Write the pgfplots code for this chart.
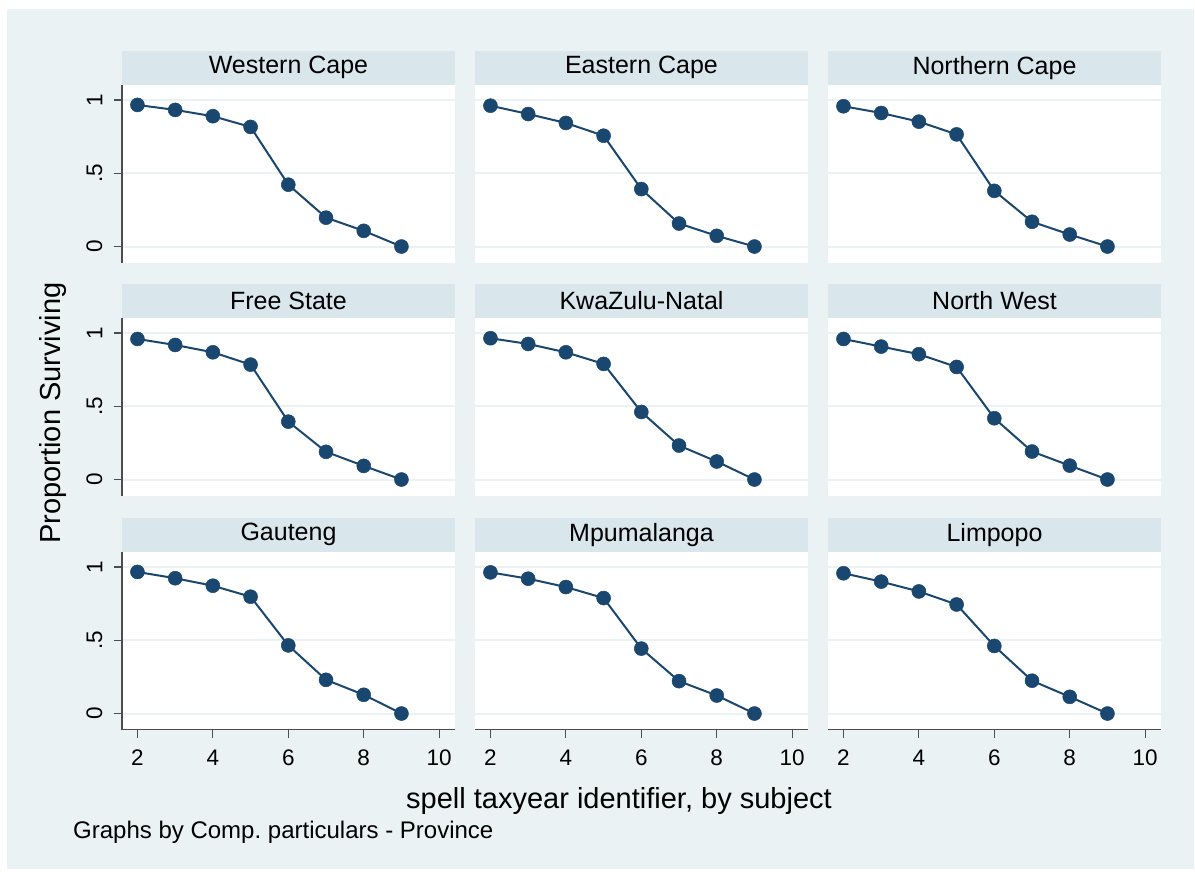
\documentclass[border=0pt]{standalone}
\usepackage{pgfplots}
\pgfplotsset{compat=1.18}
\usepackage{fontspec}
\setmainfont{Liberation Sans}

\definecolor{bgc}{HTML}{EAF2F3}
\definecolor{barc}{HTML}{D9E6EB}
\definecolor{gridc}{HTML}{EAF2F3}
\definecolor{navy}{HTML}{1A476F}
\definecolor{axc}{HTML}{4D4D4D}

\pgfplotsset{
  panel/.style={
    width=333pt, height=177.5pt, scale only axis,
    xmin=1.59, xmax=10.42, ymin=-0.109, ymax=1.102,
    xtick={2,4,6,8,10}, ytick={0,0.5,1}, yticklabels={0,.5,1},
    /pgf/number format/assume math mode=true,
    axis x line=bottom, axis y line=left,
    axis line style={-, draw=axc, line width=1.2pt},
    ymajorgrids, grid style={gridc, line width=2pt},
    tick align=outside, major tick length=8.5pt,
    tick style={axc, line width=1.2pt},
    axis background/.style={fill=white},
    ticklabel style={font=\fontsize{22.5}{26}\selectfont},
    yticklabel style={rotate=90, anchor=south, inner sep=0pt},
    yticklabel shift=11pt,
    xticklabel style={inner sep=0pt},
    xticklabel shift=12pt,
    every axis title/.style={at={(0.5,1)}, anchor=south, fill=barc,
      minimum width=333pt, minimum height=34pt, inner sep=0pt,
      font=\fontsize{25}{28}\selectfont},
    every axis plot post/.append style={navy, line width=2pt, mark=*,
      mark size=7pt, mark options={fill=navy, draw=navy, line width=0.5pt}},
  },
  noy/.style={y axis line style={draw=none}, yticklabels={}, ytick style={draw=none}},
  nox/.style={x axis line style={draw=none}, xticklabels={}, xtick style={draw=none}},
}

\begin{document}
\begin{tikzpicture}
\fill[white] (0pt,0pt) rectangle (1195pt,-871pt);
\fill[bgc] (7pt,-9pt) rectangle (1194pt,-869pt);

% row 1
\begin{axis}[panel, nox, at={(122pt,-85pt)}, anchor=north west, title={Western Cape}]
\addplot coordinates {(2,0.966) (3,0.932) (4,0.889) (5,0.816) (6,0.422) (7,0.197) (8,0.107) (9,0)};
\end{axis}
\begin{axis}[panel, nox, noy, at={(475pt,-85pt)}, anchor=north west, title={Eastern Cape}]
\addplot coordinates {(2,0.961) (3,0.904) (4,0.843) (5,0.756) (6,0.392) (7,0.157) (8,0.073) (9,0)};
\end{axis}
\begin{axis}[panel, nox, noy, at={(828pt,-85pt)}, anchor=north west, title={Northern Cape}]
\addplot coordinates {(2,0.957) (3,0.911) (4,0.852) (5,0.765) (6,0.380) (7,0.169) (8,0.082) (9,0)};
\end{axis}

% row 2
\begin{axis}[panel, nox, at={(122pt,-318pt)}, anchor=north west, title={Free State}]
\addplot coordinates {(2,0.959) (3,0.918) (4,0.868) (5,0.784) (6,0.395) (7,0.189) (8,0.093) (9,0)};
\end{axis}
\begin{axis}[panel, nox, noy, at={(475pt,-318pt)}, anchor=north west, title={KwaZulu-Natal}]
\addplot coordinates {(2,0.964) (3,0.925) (4,0.868) (5,0.789) (6,0.461) (7,0.232) (8,0.123) (9,0)};
\end{axis}
\begin{axis}[panel, nox, noy, at={(828pt,-318pt)}, anchor=north west, title={North West}]
\addplot coordinates {(2,0.959) (3,0.907) (4,0.855) (5,0.768) (6,0.418) (7,0.191) (8,0.095) (9,0)};
\end{axis}

% row 3
\begin{axis}[panel, at={(122pt,-552pt)}, anchor=north west, title={Gauteng}]
\addplot coordinates {(2,0.966) (3,0.923) (4,0.872) (5,0.797) (6,0.465) (7,0.230) (8,0.128) (9,0)};
\end{axis}
\begin{axis}[panel, noy, at={(475pt,-552pt)}, anchor=north west, title={Mpumalanga}]
\addplot coordinates {(2,0.963) (3,0.920) (4,0.863) (5,0.788) (6,0.443) (7,0.221) (8,0.123) (9,0)};
\end{axis}
\begin{axis}[panel, noy, at={(828pt,-552pt)}, anchor=north west, title={Limpopo}]
\addplot coordinates {(2,0.957) (3,0.900) (4,0.833) (5,0.744) (6,0.461) (7,0.224) (8,0.114) (9,0)};
\end{axis}

\node[rotate=90, font=\fontsize{29}{33}\selectfont, inner sep=0pt] at (53pt,-413pt) {Proportion Surviving};
\node[anchor=base, font=\fontsize{29}{33}\selectfont, inner sep=0pt] at (619pt,-808pt) {spell taxyear identifier, by subject};
\node[anchor=base west, font=\fontsize{24}{28}\selectfont, inner sep=0pt] at (73pt,-838pt) {Graphs by Comp.\ particulars - Province};
\end{tikzpicture}
\end{document}
